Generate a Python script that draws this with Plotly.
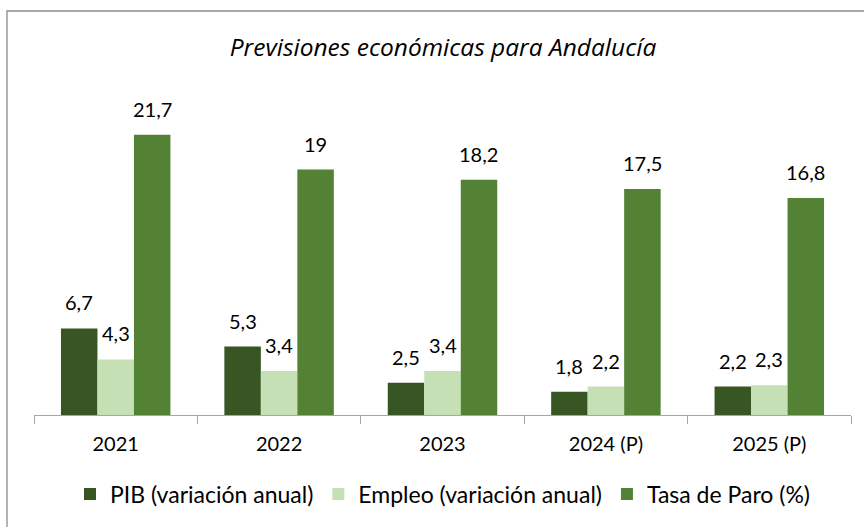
import plotly.graph_objects as go

categories = ["2021", "2022", "2023", "2024 (P)", "2025 (P)"]
pib = [6.7, 5.3, 2.5, 1.8, 2.2]
empleo = [4.3, 3.4, 3.4, 2.2, 2.3]
paro = [21.7, 19, 18.2, 17.5, 16.8]
series_names = ["PIB (variación anual)", "Empleo (variación anual)", "Tasa de Paro (%)"]
colors = ["#375623", "#C5E0B4", "#548235"]

W, H = 864, 527
L, R, T, B = 34, 13, 92, 112
plot_w = W - L - R
plot_h = H - T - B
FONT = "Lato"

def fmt(v):
    s = f"{v:g}"
    return s.replace(".", ",")

fig = go.Figure()
all_series = [pib, empleo, paro]
for name, vals, col in zip(series_names, all_series, colors):
    fig.add_trace(go.Bar(x=categories, y=vals, name=name, marker_color=col,
                         marker_line_width=0))

# labels as annotations above bars (x given as category index)
cat_w = plot_w / len(categories)
bargap = 0.33
bar_w = cat_w * (1 - bargap) / 3
offsets = [-bar_w, 0, bar_w]
for vals, off in zip(all_series, offsets):
    for i, v in enumerate(vals):
        fig.add_annotation(x=i, y=v, text=fmt(v), showarrow=False, xshift=off,
                           yanchor="bottom", yshift=12,
                           font=dict(family=FONT, size=20, color="#000000"))

fig.update_layout(
    width=W, height=H,
    margin=dict(l=L, r=R, t=T, b=B),
    paper_bgcolor="white", plot_bgcolor="white",
    barmode="group", bargap=bargap, bargroupgap=0,
    font=dict(family=FONT, size=20, color="#000000"),
    title=dict(text="<i>Previsiones económicas para Andalucía</i>",
               x=443 / W, xanchor="center", y=1 - 47 / H, yanchor="middle",
               font=dict(family="Open Sans", size=24.5, color="#000000")),
    showlegend=True,
    legend=dict(orientation="h", x=(70 - L) / plot_w, xanchor="left",
                y=-(494 - (H - B)) / plot_h, yanchor="middle",
                font=dict(family=FONT, size=23, color="#000000"),
                itemwidth=30, traceorder="normal"),
    xaxis=dict(type="category", categoryorder="array", categoryarray=categories,
               range=[-0.5, len(categories) - 0.5],
               showline=True, linecolor="#A6A6A6", linewidth=1.3,
               ticks="outside", tickson="boundaries", ticklen=8, tickcolor="#A6A6A6",
               tickwidth=1.3, tickfont=dict(family=FONT, size=20, color="#000000"),
               showgrid=False, zeroline=False, ticklabelstandoff=11, tickangle=0),
    yaxis=dict(range=[0, 25], visible=False, showgrid=False, zeroline=False),
)

# outer chart border (extends beyond the right and bottom edges)
fig.add_shape(type="rect", xref="paper", yref="paper",
              x0=(7 - L) / plot_w, x1=(W + 20 - L) / plot_w,
              y0=-(H + 20 - (H - B)) / plot_h, y1=1 + (T - 11) / plot_h,
              line=dict(color="#8C8C8C", width=1.3), fillcolor="rgba(0,0,0,0)",
              layer="below")

fig.write_html("out.html", config={"displayModeBar": False},
               post_script="document.body.style.margin='0px';document.body.style.padding='0px';")
